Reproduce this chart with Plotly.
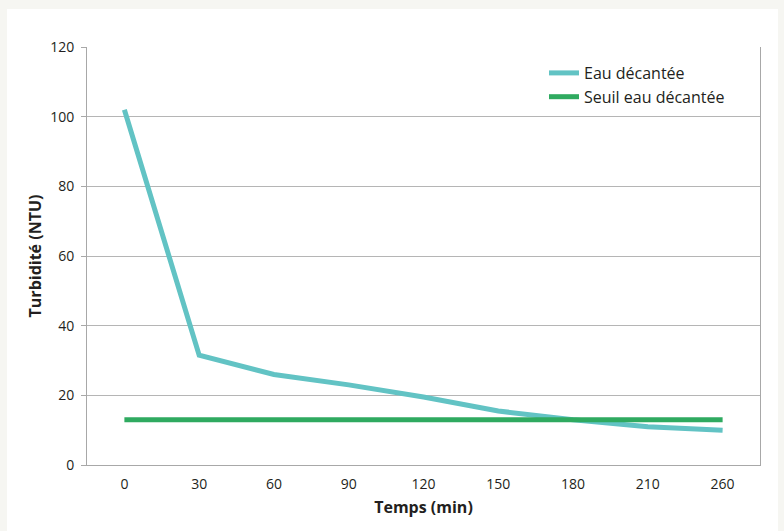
import plotly.graph_objects as go

temps = ["0", "30", "60", "90", "120", "150", "180", "210", "260"]
eau_decantee = [102, 31.5, 26, 23, 19.5, 15.5, 13, 11, 10]
seuil = [13, 13, 13, 13, 13, 13, 13, 13, 13]
y_ticks = [0, 20, 40, 60, 80, 100, 120]

FONT = "Open Sans"

fig = go.Figure()
fig.add_trace(go.Scatter(x=temps, y=eau_decantee, mode="lines", name="Eau décantée",
                         line=dict(color="#62c3c4", width=5)))
fig.add_trace(go.Scatter(x=temps, y=seuil, mode="lines", name="Seuil eau décantée",
                         line=dict(color="#2faa60", width=5)))

L, R, T, B = 87, 24, 47, 66
W, H = 784, 531
pw, ph = W - L - R, H - T - B

def px_x(p):
    return (p - L) / pw

def px_y(p):
    return (H - B - p) / ph

fig.add_shape(type="rect", xref="paper", yref="paper",
              x0=px_x(7), x1=px_x(778), y0=px_y(531), y1=px_y(9),
              fillcolor="white", line=dict(width=0), layer="below")

fig.update_layout(
    width=W, height=H,
    margin=dict(l=L, r=R, t=T, b=B, autoexpand=False),
    paper_bgcolor="#f6f6f2",
    plot_bgcolor="white",
    font=dict(family=FONT, size=14, color="#231f20"),
    showlegend=True,
    legend=dict(x=px_x(544), y=px_y(56), xanchor="left", yanchor="top",
                bgcolor="rgba(0,0,0,0)", font=dict(size=16, family=FONT),
                itemwidth=30, tracegroupgap=0),
)
fig.update_xaxes(
    type="category", range=[-0.5, 8.5], automargin=False,
    title=dict(text="<b>Temps (min)</b>", font=dict(size=16), standoff=10),
    showgrid=False, showline=True, linecolor="#a8a8a8", linewidth=1,
    ticks="outside", ticklen=6, tickcolor="rgba(0,0,0,0)",
    tickfont=dict(size=14), zeroline=False,
)
fig.update_yaxes(
    range=[0, 120], tickvals=y_ticks, automargin=False,
    title=dict(text="<b>Turbidité (NTU)</b>", font=dict(size=16), standoff=4),
    showgrid=True, gridcolor="#b5b5b5", gridwidth=1,
    showline=True, linecolor="#a8a8a8", linewidth=1, mirror=True,
    ticks="outside", ticklen=5, tickcolor="#a8a8a8", ticklabelstandoff=4,
    tickfont=dict(size=14), zeroline=False,
)

fig.write_html("out.html", config={"displayModeBar": False},
               post_script="document.body.style.margin='0';")
